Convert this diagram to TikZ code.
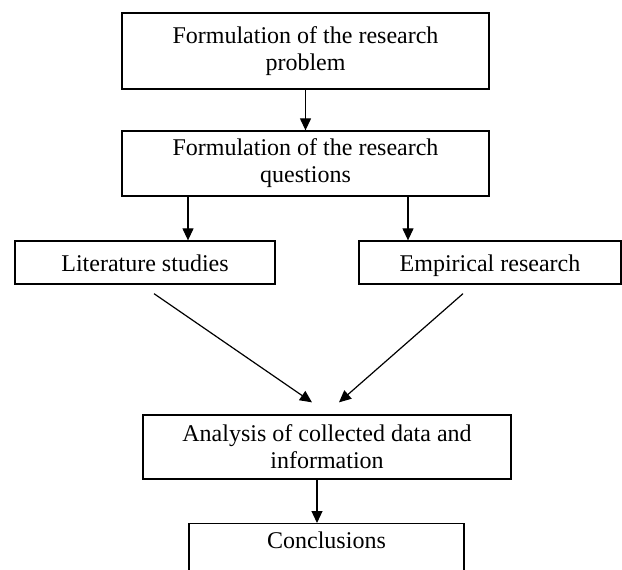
\documentclass[tikz,border=0pt]{standalone}
\usepackage{fontspec}
\setmainfont{Liberation Serif}
\usetikzlibrary{arrows.meta}
\begin{document}
\begin{tikzpicture}[
            x=1pt, y=-1pt,
            every node/.style = {shape=rectangle, draw=black, line width=1.3pt, align=center, inner sep=3pt, font=\fontsize{24}{27}\selectfont},
            oneline/.style = {text height=20pt, text depth=3pt},
            tip/.style = {line width=1.2pt, -{Triangle[length=12pt,width=11pt]}}
          ]
          \clip (0,0) rectangle (622,570);
          \node (problem)   at (305.5,51)  [minimum width=367pt, minimum height=76pt] {Formulation of the research\\problem};
          \node (questions) at (305.5,163.5) [minimum width=367pt, minimum height=65pt] {Formulation of the research\\questions};
          \node (lit)       at (145,262.5) [oneline, minimum width=260pt, minimum height=43pt] {Literature studies};
          \node (emp)       at (490,262.5) [oneline, minimum width=262pt, minimum height=43pt] {Empirical research};
          \node (analysis)  at (327,447)   [minimum width=368pt, minimum height=64pt] {Analysis of collected data and\\information};
          \node (concl)     at (326.5,523) [anchor=north, minimum width=275pt, text height=22pt, text depth=60pt] {Conclusions};

          \draw[tip] (problem) -- (questions);
          \draw[tip] ([xshift=-117.5pt]questions.south) -- ([xshift=43pt]lit.north);
          \draw[tip] ([xshift=102.5pt]questions.south) -- ([xshift=-82pt]emp.north);
          \draw[tip] ([shift={(9pt,-9pt)}]lit.south) -- ([shift={(-15pt,12pt)}]analysis.north);
          \draw[tip] ([shift={(-27pt,-9pt)}]emp.south) -- ([shift={(12pt,12pt)}]analysis.north);
          \draw[tip] ([xshift=-10pt]analysis.south) -- ([xshift=-9.5pt]concl.north);
        \end{tikzpicture}
\end{document}
